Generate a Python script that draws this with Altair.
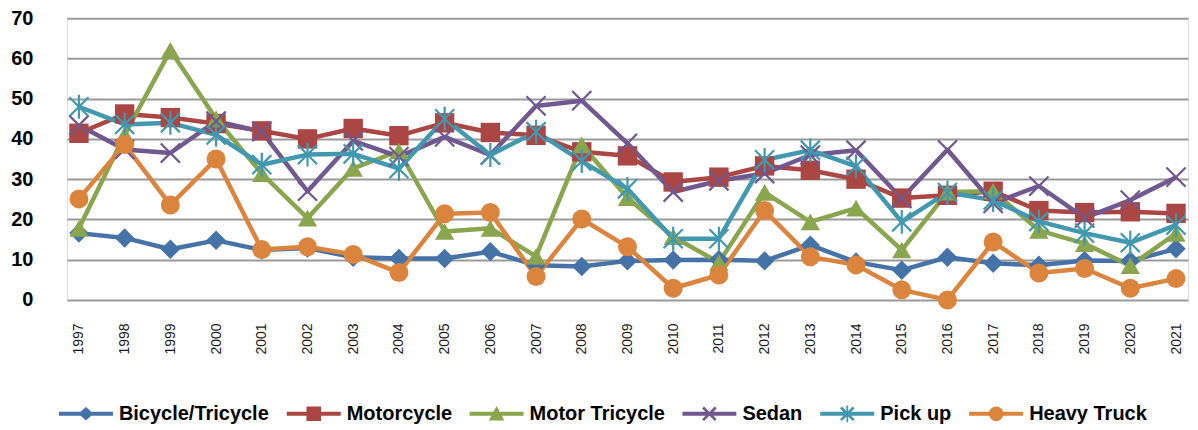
import altair as alt
import pandas as pd

years = ["1997", "1998", "1999", "2000", "2001", "2002", "2003", "2004", "2005",
         "2006", "2007", "2008", "2009", "2010", "2011", "2012", "2013", "2014",
         "2015", "2016", "2017", "2018", "2019", "2020", "2021"]

names = ["Bicycle/Tricycle", "Motorcycle", "Motor Tricycle", "Sedan", "Pick up", "Heavy Truck"]

bicycle = [16.6, 15.4, 12.6, 14.8, 12.4, 12.9, 10.6, 10.3, 10.3, 12.0, 8.6, 8.3, 9.7,
           9.9, 10.0, 9.7, 13.6, 9.4, 7.4, 10.6, 9.1, 8.6, 9.8, 9.7, 12.7]
motorcycle = [41.4, 46.2, 45.3, 43.8, 42.0, 40.0, 42.6, 40.8, 44.0, 41.6, 40.9, 36.8, 35.8,
              29.3, 30.5, 33.3, 32.2, 30.0, 25.3, 26.0, 27.0, 22.2, 21.7, 21.9, 21.5]
motor_tricycle = [17.8, 41.0, 62.0, 45.0, 31.4, 20.3, 32.7, 37.0, 17.0, 17.8, 10.8, 38.5, 25.4,
                  15.7, 9.3, 26.7, 19.4, 22.8, 12.4, 26.8, 27.0, 17.3, 14.0, 8.5, 16.5]
sedan = [43.4, 37.4, 36.5, 44.4, 41.8, 27.0, 39.5, 35.6, 40.5, 36.0, 48.2, 49.5, 38.9,
         26.8, 29.6, 31.4, 36.0, 37.2, 25.2, 37.3, 24.0, 28.3, 20.4, 24.8, 30.5]
pickup = [48.0, 43.6, 44.0, 41.0, 33.6, 36.1, 36.3, 32.6, 45.0, 36.0, 41.8, 34.5, 27.6,
          15.2, 15.2, 34.8, 37.2, 33.2, 19.4, 26.7, 24.8, 19.5, 16.6, 14.2, 18.6]
heavy_truck = [25.1, 38.6, 23.6, 35.0, 12.5, 13.2, 11.3, 6.8, 21.4, 21.7, 5.8, 20.1, 13.2,
               2.9, 6.2, 22.2, 10.7, 8.7, 2.5, 0.0, 14.4, 6.7, 7.8, 2.9, 5.3]

y_ticks = [0, 10, 20, 30, 40, 50, 60, 70]

colors = ["#4572A7", "#AA4643", "#89A54E", "#71588F", "#4198AF", "#DB843D"]

# plot markers
X_PATH = "M-1,-1L1,1M-1,1L1,-1"
STAR_PATH = "M-1,-1L1,1M-1,1L1,-1M0,-1.25L0,1.25"
plot_shapes = ["diamond", "square", "triangle-up", X_PATH, STAR_PATH, "circle"]
plot_sizes = [380, 361, 400, 324, 324, 314]

# legend glyphs: line segment with marker in the middle (filled paths)
BAR = "M-1,-0.075H1V0.075H-1Z"
G_DIAMOND = BAR + "M-0.28,0L0,-0.25L0.28,0L0,0.25Z"
G_SQUARE = BAR + "M-0.27,-0.27H0.27V0.27H-0.27Z"
G_TRI = BAR + "M-0.29,0.25L0,-0.29L0.29,0.25Z"
G_X = BAR + "M-0.2,-0.27L0.27,0.2L0.2,0.27L-0.27,-0.2Z" \
            "M-0.27,0.2L0.2,-0.27L0.27,-0.2L-0.2,0.27Z"
G_STAR = G_X + "M-0.033,-0.31H0.033V0.31H-0.033Z"
G_CIRCLE = BAR + "M-0.27,0A0.27,0.27,0,1,1,0.27,0A0.27,0.27,0,1,1,-0.27,0Z"
legend_shapes = [G_DIAMOND, G_SQUARE, G_TRI, G_X, G_STAR, G_CIRCLE]

series_values = [bicycle, motorcycle, motor_tricycle, sedan, pickup, heavy_truck]
rows = []
for name, vals in zip(names, series_values):
    for yr, v in zip(years, vals):
        rows.append({"year": yr, "series": name, "value": v})
df = pd.DataFrame(rows)

FONT = "Liberation Sans"

x_axis = alt.Axis(title=None, labelAngle=270, labelFontSize=14, labelColor="#1a1a1a",
                  labelPadding=23, ticks=False, domain=False, grid=False, labelFont=FONT)
y_axis = alt.Axis(title=None, values=y_ticks, labelFontSize=20, labelFontWeight="bold",
                  labelColor="#000000", labelPadding=34, ticks=False, domain=False,
                  grid=True, gridColor="#9a9a9a", gridWidth=2, labelFont=FONT)

base = alt.Chart(df).encode(
    x=alt.X("year:O", sort=years, scale=alt.Scale(padding=0.2623), axis=x_axis),
    y=alt.Y("value:Q", scale=alt.Scale(domain=[0, 70], nice=False), axis=y_axis),
)

def color_enc(legend=None):
    return alt.Color("series:N", scale=alt.Scale(domain=names, range=colors), legend=legend)

def shape_enc(rng, legend=None):
    return alt.Shape("series:N", scale=alt.Scale(domain=names, range=rng), legend=legend)

size_enc = alt.Size("series:N", scale=alt.Scale(domain=names, range=plot_sizes), legend=None)

lines = base.mark_line(strokeWidth=4.5, strokeJoin="round").encode(
    color=color_enc(), detail="series:N")

filled_a = base.transform_filter(
    alt.FieldOneOfPredicate(field="series", oneOf=names[:3])
).mark_point(filled=True, opacity=1).encode(
    color=color_enc(), shape=shape_enc(plot_shapes), size=size_enc)

stroked = base.transform_filter(
    alt.FieldOneOfPredicate(field="series", oneOf=names[3:5])
).mark_point(filled=False, opacity=1, strokeWidth=2.2).encode(
    color=color_enc(), shape=shape_enc(plot_shapes), size=size_enc)

filled_b = base.transform_filter(
    alt.FieldOneOfPredicate(field="series", oneOf=names[5:])
).mark_point(filled=True, opacity=1).encode(
    color=color_enc(), shape=shape_enc(plot_shapes), size=size_enc)

leg = alt.Legend(title=None, orient="none", legendX=-8, legendY=369,
                 direction="horizontal", columns=6, symbolSize=2916,
                 symbolOpacity=1, symbolStrokeWidth=0, labelFont=FONT,
                 labelFontSize=20, labelFontWeight="bold", labelColor="#000000",
                 labelOffset=6, columnPadding=17, labelLimit=400)

legend_layer = base.mark_point(filled=True, opacity=0).encode(
    color=color_enc(leg), shape=shape_enc(legend_shapes, leg))

chart = alt.layer(lines, filled_a, stroked, filled_b, legend_layer).resolve_scale(
    color="independent", shape="independent"
).properties(
    width=1122, height=282,
    padding={"left": 2, "top": 0, "right": 0, "bottom": 0},
    background="white",
).configure_view(strokeWidth=0).configure(font=FONT)

chart.save("out.html", embed_options={"renderer": "svg", "actions": False})
